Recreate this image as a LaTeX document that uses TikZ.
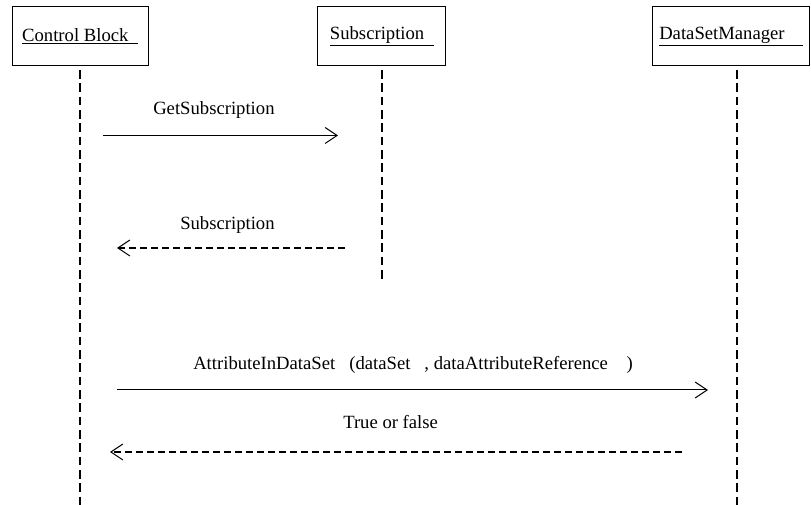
\documentclass[tikz,border=0pt]{standalone}
\usepackage{fontspec}
\setmainfont{Liberation Serif}
\usetikzlibrary{arrows.meta}
\tikzset{
  objbox/.style={draw,line width=0.75pt,minimum height=44.25pt,inner sep=0pt},
  lifeline/.style={line width=1.6pt,dash pattern=on 6.5pt off 3.5pt},
  call/.style={line width=0.75pt,-{Straight Barb[length=9pt,width=12pt,line width=0.75pt]}},
  reply/.style={line width=1.5pt,dash pattern=on 5.25pt off 3pt,-{Straight Barb[length=9pt,width=12pt,line width=0.75pt]}},
  msg/.style={anchor=base west,inner sep=0pt}
}
\begin{document}
\begin{tikzpicture}[x=0.75pt,y=-0.75pt,font=\fontsize{14}{17}\selectfont]
\useasboundingbox (0,0) rectangle (811,505);
\foreach \n/\x/\w/\lab in {cb/80/102pt/{Control Block\ \ },sub/381.8/96.2pt/{Subscription\ \ },dsm/731.3/118pt/{DataSetManager\ \ \ \ }}{
  \node[objbox,minimum width=\w] (\n) at (\x,36.5) {\raisebox{-1.5pt}{\underline{\lab}}};}
\foreach \n/\x/\b in {cb/80/505,sub/381.7/283,dsm/737/505}{
  \coordinate (\n top) at (\x,70);
  \coordinate (\n bot) at (\x,\b);
  \draw[lifeline] (\n top) -- (\n bot);}
\coordinate (getfrom) at (103,135.5);
\coordinate (getto) at (338,135.5);
\coordinate (subfrom) at (345,248);
\coordinate (subto) at (117,248);
\coordinate (attrfrom) at (117,390);
\coordinate (attrto) at (708,390);
\coordinate (tfrom) at (682,452);
\coordinate (tto) at (110,452);
\node[msg] (getlab) at (153,115) {GetSubscription};
\node[msg] (sublab) at (180,230) {Subscription};
\node[msg] (attrlab) at (193,370) {AttributeInDataSet\ \ \ (dataSet\ \ \ ,\ dataAttributeReference\ \ \ \ )};
\node[msg] (tlab) at (343,429) {True or false};
\draw[call] (getfrom) -- (getto);
\draw[reply] (subfrom) -- (subto);
\draw[call] (attrfrom) -- (attrto);
\draw[reply] (tfrom) -- (tto);
\end{tikzpicture}
\end{document}
